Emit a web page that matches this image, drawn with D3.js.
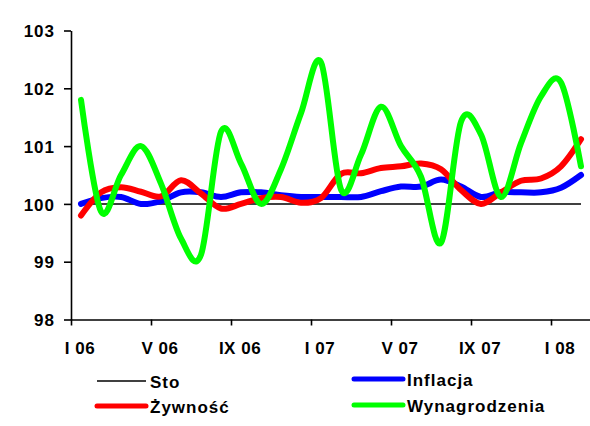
<!DOCTYPE html>
<html>
<head>
<meta charset="utf-8">
<script src="https://cdn.jsdelivr.net/npm/d3@7"></script>
<style>
  body { margin: 0; background: #fff; }
  text { font-family: "Liberation Sans", Arial, sans-serif; font-weight: bold; }
</style>
</head>
<body>
<svg width="590" height="426"></svg>
<script>
var svg = d3.select("svg");

// monthly data, I 06 .. II 08
var tickLabels = ["I 06", "V 06", "IX 06", "I 07", "V 07", "IX 07", "I 08"];
var sto = 100;
var inflacja = [100.0, 100.1, 100.12, 100.0, 100.05, 100.2, 100.2, 100.12, 100.2, 100.2, 100.15, 100.12, 100.12,
                100.12, 100.12, 100.22, 100.3, 100.3, 100.42, 100.3, 100.12, 100.2, 100.2, 100.2, 100.28, 100.5];
var zywnosc = [99.8, 100.2, 100.29, 100.21, 100.13, 100.41, 100.18, 99.92, 100.0, 100.1, 100.12, 100.02, 100.1,
               100.52, 100.53, 100.62, 100.65, 100.7, 100.6, 100.24, 100.0, 100.2, 100.4, 100.44, 100.65, 101.12];
var wynagrodzenia = [101.8, 99.87, 100.5, 101.0, 100.35, 99.4, 99.12, 101.25, 100.7, 100.0, 100.6, 101.57, 102.45,
                     100.25, 100.85, 101.68, 101.0, 100.47, 99.33, 101.42, 101.2, 100.12, 101.05, 101.86, 102.1, 100.65];

var n = inflacja.length;
var x = d3.scaleLinear().domain([0, n]).range([71, 591]);
var y = d3.scaleLinear().domain([98, 103]).range([319.5, 30.5]);

// y axis
var yAxis = svg.append("g")
    .attr("transform", "translate(71,0)")
    .call(d3.axisLeft(y).ticks(5).tickSize(7).tickSizeOuter(0).tickFormat(d3.format("d")));
yAxis.selectAll("text").attr("x", -16).attr("dy", "0.36em")
    .style("font-size", "17px").style("letter-spacing", "1px");

// x axis
var xAxis = svg.append("g")
    .attr("transform", "translate(0,319.5)")
    .call(d3.axisBottom(x).tickValues(d3.range(0, n, 4)).tickSize(6).tickSizeOuter(0).tickFormat(""));
svg.selectAll(".domain, .tick line").attr("stroke", "#000").attr("stroke-width", 1.6);

svg.append("g").selectAll("text")
    .data(tickLabels)
    .enter().append("text")
    .attr("x", function (d, i) { return x(i * 4 + 0.45); })
    .attr("y", 354)
    .attr("text-anchor", "middle")
    .style("font-size", "17px")
    .style("letter-spacing", "0.5px")
    .text(function (d) { return d; });

// reference line at 100
svg.append("line")
    .attr("x1", x(0.5)).attr("x2", x(n - 0.5))
    .attr("y1", y(sto)).attr("y2", y(sto))
    .attr("stroke", "#000").attr("stroke-width", 1.5);

var line = d3.line()
    .x(function (d, i) { return x(i + 0.5); })
    .y(function (d) { return y(d); })
    .curve(d3.curveCatmullRom.alpha(0));

var series = [
    {name: "Inflacja", values: inflacja, color: "#0000ff"},
    {name: "Żywność", values: zywnosc, color: "#ff0000"},
    {name: "Wynagrodzenia", values: wynagrodzenia, color: "#00ff00"}
];

svg.append("g").selectAll("path")
    .data(series)
    .enter().append("path")
    .attr("d", function (d) { return line(d.values); })
    .attr("fill", "none")
    .attr("stroke", function (d) { return d.color; })
    .attr("stroke-width", 6)
    .attr("stroke-linejoin", "round")
    .attr("stroke-linecap", "round");

// legend
var legendItems = [
    {name: "Sto", color: "#000", w: 1.5, x: 97, y: 381},
    {name: "Inflacja", color: "#0000ff", w: 5, x: 354, y: 379},
    {name: "Żywność", color: "#ff0000", w: 5, x: 97, y: 406},
    {name: "Wynagrodzenia", color: "#00ff00", w: 5, x: 354, y: 405}
];
var legend = svg.append("g").selectAll("g")
    .data(legendItems)
    .enter().append("g");
legend.append("line")
    .attr("x1", function (d) { return d.x; })
    .attr("x2", function (d) { return d.x + 49; })
    .attr("y1", function (d) { return d.y; })
    .attr("y2", function (d) { return d.y; })
    .attr("stroke", function (d) { return d.color; })
    .attr("stroke-width", function (d) { return d.w; })
    .attr("stroke-linecap", function (d) { return d.w > 2 ? "round" : "butt"; });
legend.append("text")
    .attr("x", function (d) { return d.x + 53; })
    .attr("y", function (d) { return d.y + 7; })
    .style("font-size", "17px")
    .style("letter-spacing", "1px")
    .text(function (d) { return d.name; });
</script>
</body>
</html>
